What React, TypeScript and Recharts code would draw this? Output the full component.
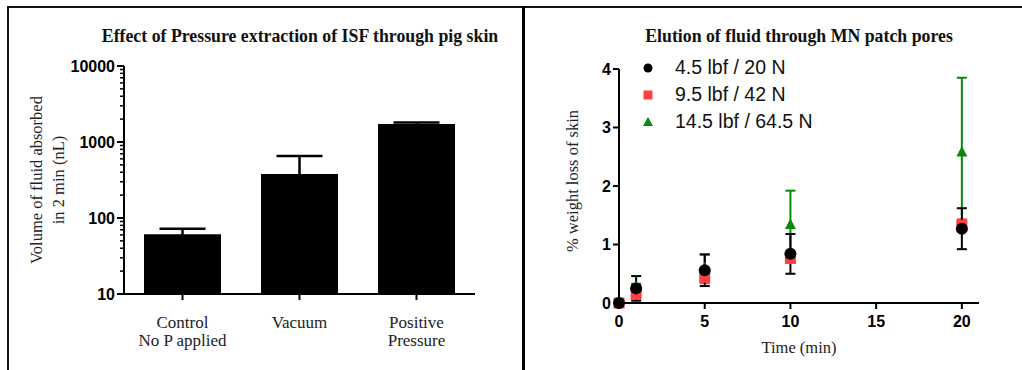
import React from 'react';
import { BarChart, Bar, XAxis, YAxis, ErrorBar, ScatterChart, Scatter, Legend } from 'recharts';

const SERIF = '"Liberation Serif", "Times New Roman", serif';
const SANS = '"Liberation Sans", Arial, sans-serif';

// left panel: volume absorbed (log scale)
const CATEGORIES = ['Control\nNo P applied', 'Vacuum', 'Positive\nPressure'];
const VOLUMES = [61, 380, 1720];
const VOLUME_SD = [11, 275, 80];
const LOG_TICKS = [10, 100, 1000, 10000];
const MINOR_TICKS = [
  20, 30, 40, 50, 60, 70, 80, 90,
  200, 300, 400, 500, 600, 700, 800, 900,
  2000, 3000, 4000, 5000, 6000, 7000, 8000, 9000,
];

// right panel: % weight loss over time
const TIMES = [0, 1, 5, 10, 20];
const LOSS_20N = [0, 0.25, 0.56, 0.84, 1.27];
const SD_20N = [0, 0.21, 0.27, 0.34, 0.35];
const LOSS_42N = [0, 0.15, 0.44, 0.76, 1.33];
const SD_42N = [0, 0.15, 0.1, 0.06, 0.1];
const LOSS_64N = [0, 0.28, 0.6, 1.34, 2.58];
const SD_64N = [0, 0.05, 0.23, 0.58, 1.27];
const SERIES_NAMES = ['4.5 lbf / 20 N', '9.5 lbf / 42 N', '14.5 lbf / 64.5 N'];
const X_TICKS = [0, 5, 10, 15, 20];
const Y_TICKS = [0, 1, 2, 3, 4];

const RED = '#FF4040';
const GREEN = '#0A8A0A';

const barData = CATEGORIES.map((name, i) => ({ name, value: VOLUMES[i], err: VOLUME_SD[i] }));
const allLogTicks = [...LOG_TICKS, ...MINOR_TICKS].sort((a, b) => a - b);

const toSeries = (vals: number[], sds: number[]) =>
  TIMES.map((t, i) => ({ t, v: vals[i], sd: sds[i] }));

const tickFont = { fill: '#000', fontFamily: SANS, fontWeight: 700, fontSize: 16 };

const LogTick = (props: any) => {
  const { x, y, payload } = props;
  const major = LOG_TICKS.includes(payload.value);
  return (
    <g>
      <line x1={x - (major ? 7 : 4)} x2={x} y1={y} y2={y} stroke="#000" strokeWidth={major ? 2 : 1.5} />
      {major && (
        <text x={x - 9} y={y} dy="0.36em" textAnchor="end" {...tickFont}>
          {payload.value}
        </text>
      )}
    </g>
  );
};

const CategoryTick = (props: any) => {
  const { x, y, payload } = props;
  const lines = String(payload.value).split('\n');
  return (
    <text x={x} y={y} textAnchor="middle" fontFamily={SERIF} fontSize={17} fill="#222">
      {lines.map((l, i) => (
        <tspan key={i} x={x} dy={i === 0 ? '0.71em' : 18}>
          {l}
        </tspan>
      ))}
    </text>
  );
};

const LeftYLabel = () => (
  <text transform="rotate(-90)" textAnchor="middle" fontFamily={SERIF} fontSize={16.5} fill="#222">
    <tspan x={-180} y={42}>Volume of fluid absorbed</tspan>
    <tspan x={-180} y={64}>in 2 min (nL)</tspan>
  </text>
);

const RightYLabel = () => (
  <text transform="rotate(-90)" x={-181} y={53} textAnchor="middle" fontFamily={SERIF} fontSize={16.5} fill="#222">
    % weight loss of skin
  </text>
);

const TimeLabel = (props: any) => {
  const vb = props.viewBox || {};
  return (
    <text x={vb.x + vb.width / 2} y={vb.y + 50} textAnchor="middle" fontFamily={SERIF} fontSize={16.5} fill="#222">
      Time (min)
    </text>
  );
};

const circleShape = (p: any) => <circle cx={p.cx} cy={p.cy} r={6} fill="#000" />;
const squareShape = (p: any) => <rect x={p.cx - 5.5} y={p.cy - 5.5} width={11} height={11} fill={RED} />;
const triangleShape = (p: any) => (
  <polygon points={`${p.cx},${p.cy - 6} ${p.cx + 5.5},${p.cy + 4.5} ${p.cx - 5.5},${p.cy + 4.5}`} fill={GREEN} />
);

const legendMarkers = [
  <circle cx={8} cy={8} r={4.5} fill="#000" />,
  <rect x={3.5} y={3.5} width={9} height={9} fill={RED} />,
  <polygon points="8,3 13,12 3,12" fill={GREEN} />,
];

const SeriesLegend = () => (
  <div style={{ fontFamily: SANS, fontSize: 19.5, color: '#111' }}>
    {SERIES_NAMES.map((name, i) => (
      <div key={name} style={{ display: 'flex', alignItems: 'center', height: 27 }}>
        <svg width={16} height={16} style={{ marginRight: 19 }}>
          {legendMarkers[i]}
        </svg>
        <span>{name}</span>
      </div>
    ))}
  </div>
);

const titleStyle: React.CSSProperties = {
  position: 'absolute',
  top: 28,
  fontFamily: SERIF,
  fontWeight: 700,
  fontSize: 17.8,
  lineHeight: '16px',
  color: '#111',
  whiteSpace: 'nowrap',
  transform: 'translateX(-50%)',
};

export default function App() {
  return (
    <div style={{ position: 'absolute', left: 0, top: 0, width: 1022, height: 370, background: '#fff', overflow: 'hidden' }}>
      <div style={{ position: 'absolute', left: 7, top: 6, width: 1015, height: 364, borderTop: '2px solid #111', borderLeft: '2px solid #111' }} />
      <div style={{ position: 'absolute', left: 522, top: 6, width: 3, height: 364, background: '#000' }} />

      <div style={{ ...titleStyle, left: 300 }}>Effect of Pressure extraction of ISF through pig skin</div>
      <div style={{ ...titleStyle, left: 799 }}>Elution of fluid through MN patch pores</div>

      <div style={{ position: 'absolute', left: 0, top: 0 }}>
        <BarChart width={522} height={370} data={barData} margin={{ top: 66, right: 47, bottom: 26, left: 60 }}>
          <XAxis
            dataKey="name"
            interval={0}
            height={50}
            tick={<CategoryTick />}
            tickSize={6}
            tickMargin={16}
            axisLine={{ stroke: '#000', strokeWidth: 2 }}
            tickLine={{ stroke: '#000', strokeWidth: 2 }}
          />
          <YAxis
            scale="log"
            type="number"
            domain={[10, 10000]}
            allowDataOverflow
            ticks={allLogTicks}
            interval={0}
            width={64}
            tick={<LogTick />}
            tickSize={0}
            tickMargin={0}
            tickLine={false}
            axisLine={{ stroke: '#000', strokeWidth: 2 }}
            label={{ content: LeftYLabel }}
          />
          <Bar dataKey="value" fill="#000" barSize={77} isAnimationActive={false}>
            <ErrorBar dataKey="err" direction="y" width={23} stroke="#000" strokeWidth={2.5} />
          </Bar>
        </BarChart>
      </div>

      <div style={{ position: 'absolute', left: 525, top: 0 }}>
        <ScatterChart width={497} height={370} margin={{ top: 69, right: 43, bottom: 22, left: 44 }}>
          <XAxis
            dataKey="t"
            type="number"
            domain={[0, 21]}
            ticks={X_TICKS}
            height={45}
            tick={tickFont}
            tickSize={6}
            tickMargin={7}
            axisLine={{ stroke: '#000', strokeWidth: 2 }}
            tickLine={{ stroke: '#000', strokeWidth: 2 }}
            label={{ content: TimeLabel }}
          />
          <YAxis
            dataKey="v"
            type="number"
            domain={[0, 4]}
            ticks={Y_TICKS}
            width={50}
            tick={tickFont}
            tickSize={6}
            tickMargin={2}
            axisLine={{ stroke: '#000', strokeWidth: 2 }}
            tickLine={{ stroke: '#000', strokeWidth: 2 }}
            label={{ content: RightYLabel }}
          />
          <Legend
            layout="vertical"
            align="center"
            verticalAlign="middle"
            content={<SeriesLegend />}
            wrapperStyle={{ left: 115, top: 54, width: 220, height: 81 }}
          />
          <Scatter name={SERIES_NAMES[2]} data={toSeries(LOSS_64N, SD_64N)} shape={triangleShape} isAnimationActive={false}>
            <ErrorBar dataKey="sd" direction="y" width={5} stroke={GREEN} strokeWidth={2} />
          </Scatter>
          <Scatter name={SERIES_NAMES[1]} data={toSeries(LOSS_42N, SD_42N)} shape={squareShape} isAnimationActive={false}>
            <ErrorBar dataKey="sd" direction="y" width={5} stroke={RED} strokeWidth={2} />
          </Scatter>
          <Scatter name={SERIES_NAMES[0]} data={toSeries(LOSS_20N, SD_20N)} shape={circleShape} isAnimationActive={false}>
            <ErrorBar dataKey="sd" direction="y" width={5} stroke="#000" strokeWidth={2} />
          </Scatter>
        </ScatterChart>
      </div>
    </div>
  );
}
